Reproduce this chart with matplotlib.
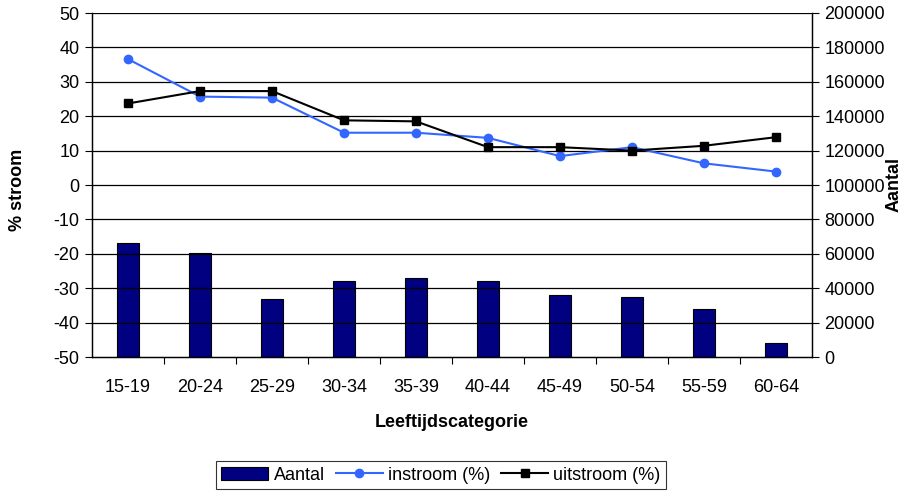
import numpy as np
import matplotlib.pyplot as plt
from matplotlib.patches import Patch
from matplotlib.lines import Line2D

plt.rcParams['font.family'] = ['Liberation Sans', 'DejaVu Sans']
plt.rcParams['font.size'] = 13
plt.rcParams['axes.unicode_minus'] = False

categories = ['15-19', '20-24', '25-29', '30-34', '35-39', '40-44', '45-49', '50-54', '55-59', '60-64']
aantal = [66300, 60700, 33500, 44200, 45700, 44200, 36300, 34900, 27700, 8000]
instroom = [36.6, 25.7, 25.4, 15.2, 15.2, 13.7, 8.4, 11.0, 6.3, 3.9]
uitstroom = [23.7, 27.3, 27.3, 18.8, 18.5, 11.0, 11.0, 10.0, 11.4, 13.9]

blue = '#3366ff'
navy = '#000080'

fig = plt.figure(figsize=(9.04, 4.96), dpi=100)
ax = fig.add_axes([92/904, 1 - 357/496, 720/904, 344/496])
ax2 = ax.twinx()

x = np.arange(len(categories))

# bars on right axis, lines on left axis (lines drawn above bars)
ax2.bar(x, aantal, width=0.31, color=navy, edgecolor='black', linewidth=0.8, zorder=2)
ax2.set_ylim(0, 200000)
ax2.set_yticks(np.arange(0, 200001, 20000))

ax.set_zorder(ax2.get_zorder() + 1)
ax.patch.set_visible(False)
ax.plot(x, instroom, '-o', color=blue, lw=1.5, ms=6, zorder=3)
ax.plot(x, uitstroom, '-s', color='black', lw=1.5, ms=6, zorder=4)

ax.set_ylim(-50, 50)
ax.set_yticks(np.arange(-50, 51, 10))
ax.set_xlim(-0.5, len(categories) - 0.5)
ax.set_xticks(x)
ax.set_xticklabels(categories)
ax.set_xticks(np.arange(0.5, len(categories) - 0.5, 1), minor=True)
ax.tick_params(axis='x', which='major', length=0, pad=16)
ax.tick_params(axis='x', which='minor', length=5, width=0.8, color='black')
ax.tick_params(axis='y', length=5, width=0.8, pad=4)
ax2.tick_params(axis='y', length=5, width=0.8, pad=4)

# horizontal gridlines
for v in np.arange(-40, 51, 10):
    ax.axhline(v, color='black', lw=0.9, zorder=1)

for a in (ax, ax2):
    a.spines['top'].set_visible(False)
    for s in ('left', 'right', 'bottom'):
        a.spines[s].set_color('black')
        a.spines[s].set_linewidth(0.9)

ax.set_xlabel('Leeftijdscategorie', fontweight='bold', labelpad=13)
fig.text(18/904, 1 - 190/496, '% stroom', rotation=90, fontweight='bold',
         ha='center', va='center')
fig.text(894/904, 1 - 185/496, 'Aantal', rotation=90, fontweight='bold',
         ha='center', va='center')

handles = [Patch(facecolor=navy, edgecolor='black', linewidth=0.8),
           Line2D([], [], color=blue, marker='o', lw=1.5, ms=6),
           Line2D([], [], color='black', marker='s', lw=1.5, ms=6)]
leg = fig.legend(handles, ['Aantal', 'instroom (%)', 'uitstroom (%)'],
                 loc='center', bbox_to_anchor=(441/904, 1 - 475/496), ncol=3,
                 frameon=True, fancybox=False, edgecolor='black',
                 handlelength=2.6, handletextpad=0.3, columnspacing=0.6,
                 borderpad=0.3)
leg.get_frame().set_linewidth(0.8)

fig.savefig('out.png', dpi=100)
